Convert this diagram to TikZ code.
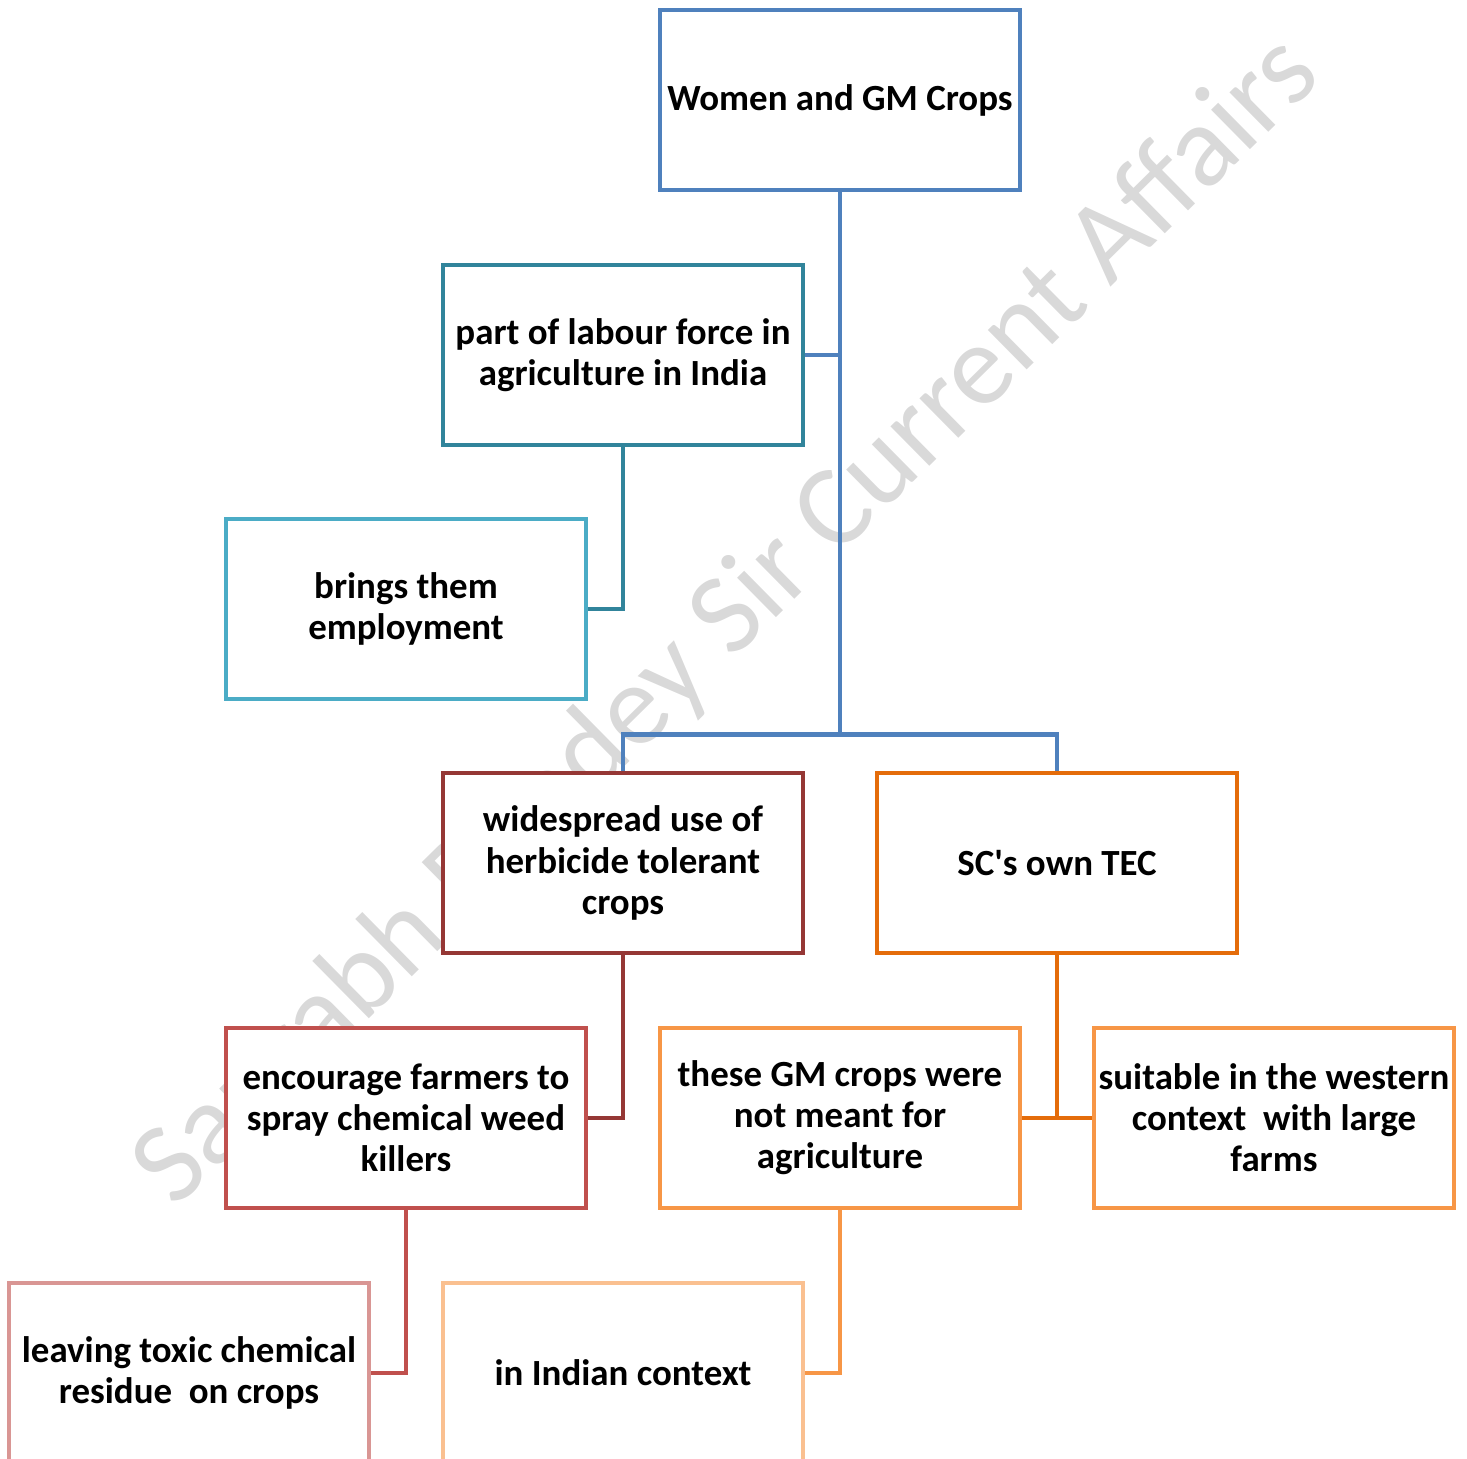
\documentclass[tikz,border=0pt]{standalone}
\usepackage{fontspec}
\setmainfont{Carlito}

\definecolor{rootblue}{HTML}{4F81BD}
\definecolor{labourteal}{HTML}{31849B}
\definecolor{employcyan}{HTML}{4BACC6}
\definecolor{herbred}{HTML}{953735}
\definecolor{tecorange}{HTML}{E46C0A}
\definecolor{weedred}{HTML}{C0504D}
\definecolor{lightorange}{HTML}{F79646}
\definecolor{toxicpink}{HTML}{D99694}
\definecolor{paleorange}{HTML}{FAC090}
\definecolor{markgray}{HTML}{D9D9D9}

\begin{document}
\begin{tikzpicture}[block/.style={rectangle, draw, fill=white, line width=1.3pt, minimum width=36mm, minimum height=18mm, inner sep=1pt, align=center, font=\fontsize{10.5}{11.7}\selectfont\bfseries}, link/.style={line width=1.3pt}]

  \clip (0,0) rectangle (14.67,-14.58);

  % watermark
  \node[rotate=44.6, text=markgray, font=\fontsize{33}{33}\selectfont] (mark) at (7.28,-6.22) {Saurabh Pandey Sir Current Affairs};

  \node[block, draw=rootblue] (root) at (8.40,-1.00) {Women and GM Crops};
  \node[block, draw=labourteal] (labour) at ([shift={(-2.17,-2.55)}]root) {part of labour force in\\agriculture in India};
  \node[block, draw=employcyan] (employ) at ([shift={(-2.17,-2.54)}]labour) {brings them\\employment};

  \node[block, draw=herbred] (herb) at ([shift={(-2.17,-7.63)}]root) {widespread use of\\herbicide tolerant\\crops};
  \node[block, draw=tecorange] (tec) at ([shift={(2.17,-7.63)}]root) {SC\textquotesingle s own TEC};

  \node[block, draw=weedred] (weed) at ([shift={(-2.17,-2.55)}]herb) {encourage farmers to\\spray chemical weed\\killers};
  \node[block, draw=lightorange] (notmeant) at ([shift={(-2.17,-2.55)}]tec) {these GM crops were\\not meant for\\agriculture};
  \node[block, draw=lightorange] (western) at ([shift={(2.17,-2.55)}]tec) {suitable in the western\\context~ with large\\farms};

  \node[block, draw=toxicpink] (toxic) at ([shift={(-2.17,-2.55)}]weed) {leaving toxic chemical\\residue~ on crops};
  \node[block, draw=paleorange] (indian) at ([shift={(-2.17,-2.55)}]notmeant) {in Indian context};

  \coordinate (fork) at ([yshift=3.6mm]herb.north -| root.south);

  \draw[link, rootblue] (root.south) |- (labour.east);
  \draw[link, rootblue] (root.south) -- (fork) -| (herb.north);
  \draw[link, rootblue] (fork) -| (tec.north);
  \draw[link, labourteal] (labour.south) |- (employ.east);
  \draw[link, herbred] (herb.south) |- (weed.east);
  \draw[link, tecorange] (tec.south) |- (notmeant.east);
  \draw[link, tecorange] (tec.south) |- (western.west);
  \draw[link, weedred] (weed.south) |- (toxic.east);
  \draw[link, lightorange] (notmeant.south) |- (indian.east);
\end{tikzpicture}
\end{document}
